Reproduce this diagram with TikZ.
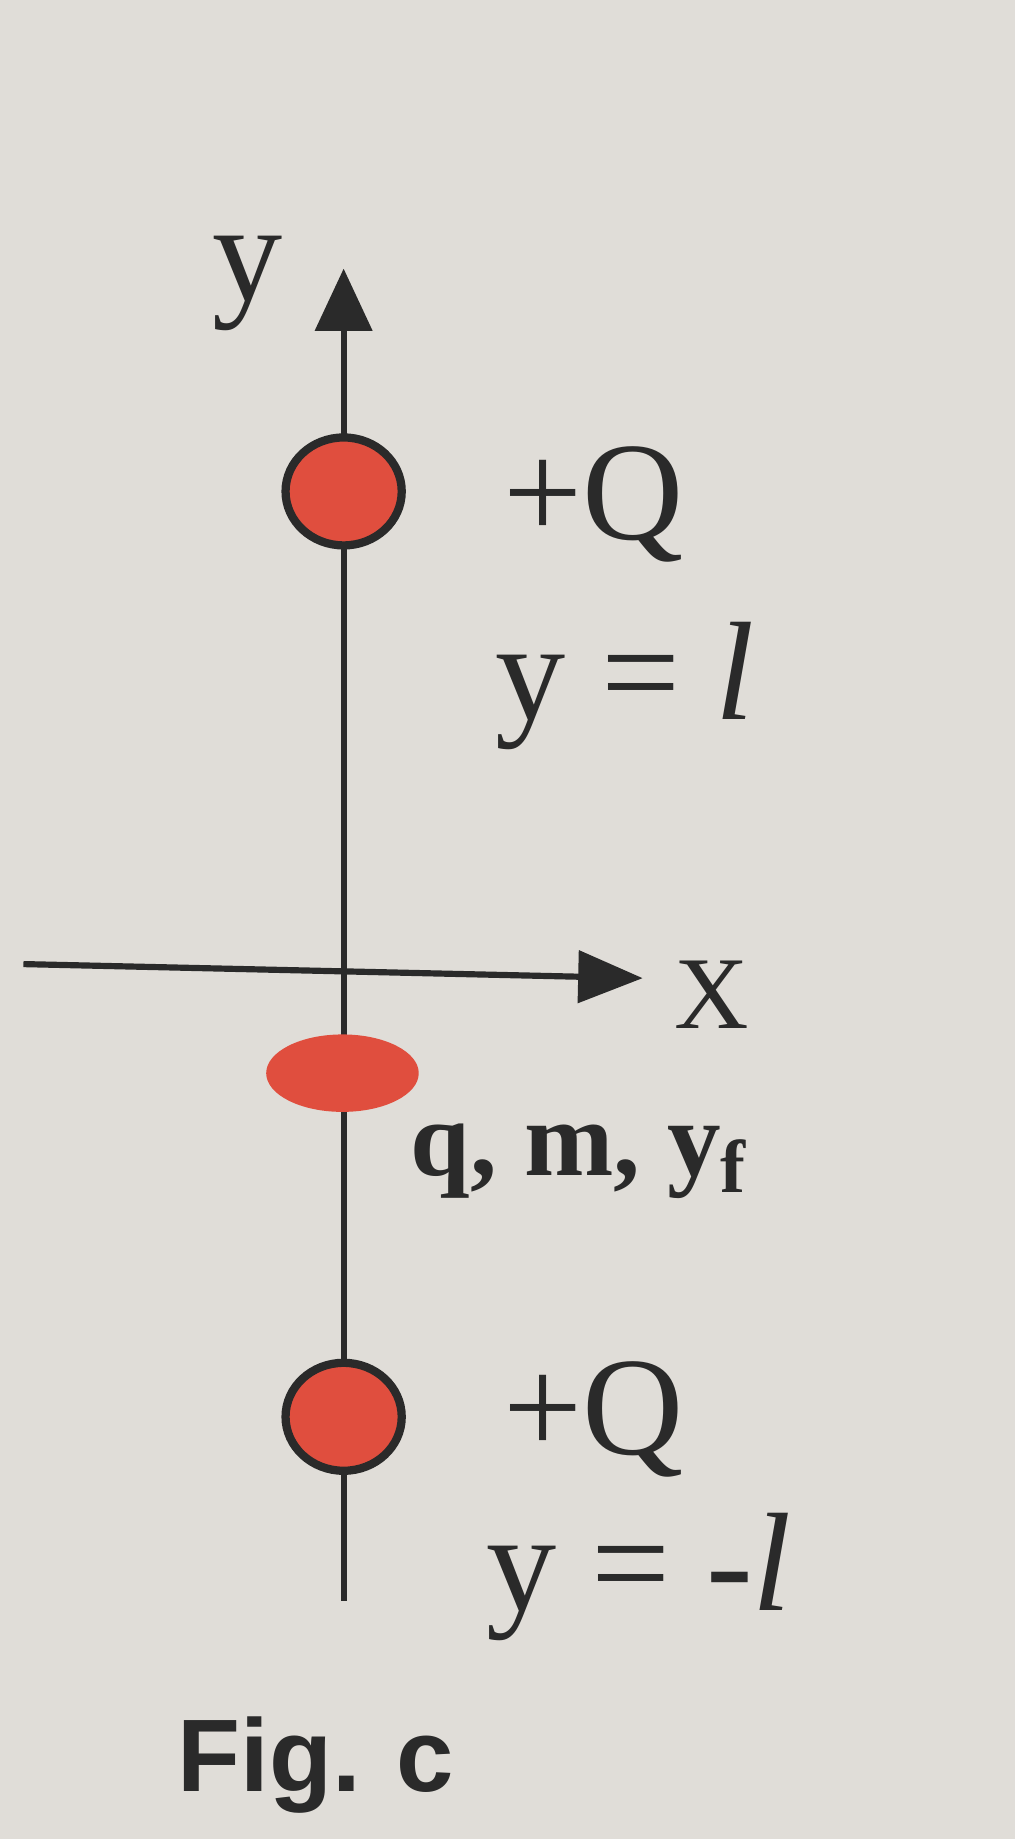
\documentclass[tikz,border=0pt]{standalone}
\usepackage[rgb]{xcolor}
\usepackage{fontspec}
\setmainfont{Liberation Serif}
\newfontfamily\figfont{Liberation Sans}
\usepackage{tikz}
\usetikzlibrary{arrows.meta,shapes.geometric}

\definecolor{paper}{RGB}{224,221,216}
\definecolor{chargered}{RGB}{224,78,62}
\definecolor{ink}{RGB}{42,42,42}

\begin{document}
\begin{tikzpicture}[x=0.01cm, y=-0.01cm,
  chargedisc/.style={ellipse, fill=chargered, draw=ink, line width=2pt, minimum width=0.99cm, minimum height=0.92cm, inner sep=0pt},
  axisline/.style={ink, line width=1.5pt},
  labeltext/.style={text=ink, inner sep=0pt, font=\fontsize{34}{40}\selectfont},
  smalltext/.style={text=ink, inner sep=0pt, font=\fontsize{25}{30}\selectfont},
  boldtext/.style={text=ink, inner sep=0pt, font=\fontsize{26}{30}\selectfont\bfseries},
  figtext/.style={text=ink, inner sep=0pt, font=\fontsize{25}{30}\selectfont\figfont\bfseries}]

% paper
\fill[paper] (0,0) rectangle (865,1568);
\useasboundingbox (0,0) rectangle (865,1568);


% y axis
\coordinate (ytip) at (293,229);
\coordinate (ybot) at (293,1365);
\draw[axisline, -{Triangle[length=0.53cm, width=0.48cm]}] (ybot) -- (ytip);
\path
(211,242) node [labeltext] (yname) {y};


% x axis
\coordinate (xleft) at (20,822);
\coordinate (xtip) at (548,834);
\draw[axisline, -{Triangle[length=0.55cm, width=0.44cm]}] (xleft) -- (xtip);
\path
(607,848) node [smalltext] (xname) {X};


% upper charge
\path
(293,419) node [chargedisc] (Qtop) {};
\path
(506,430) node [labeltext] (Qtoplbl) {+Q};
\path
(533,585) node [labeltext] (Qtoppos) {y = \textit{l}};


% test charge
\path
(292,915) node [ellipse, fill=chargered, minimum width=1.3cm, minimum height=0.66cm, inner sep=0pt] (testq) {};
\path
(494,990) node [boldtext] (testqlbl) {q, m, y\textsubscript{f}};


% lower charge
\path
(293,1208) node [chargedisc] (Qbot) {};
\path
(506,1210) node [labeltext] (Qbotlbl) {+Q};
\path
(545,1345) node [labeltext] (Qbotpos) {y = -\textit{l}};


% caption
\path
(269,1505) node [figtext] (fig) {Fig.\hspace{0.3cm}c};

\end{tikzpicture}
\end{document}
